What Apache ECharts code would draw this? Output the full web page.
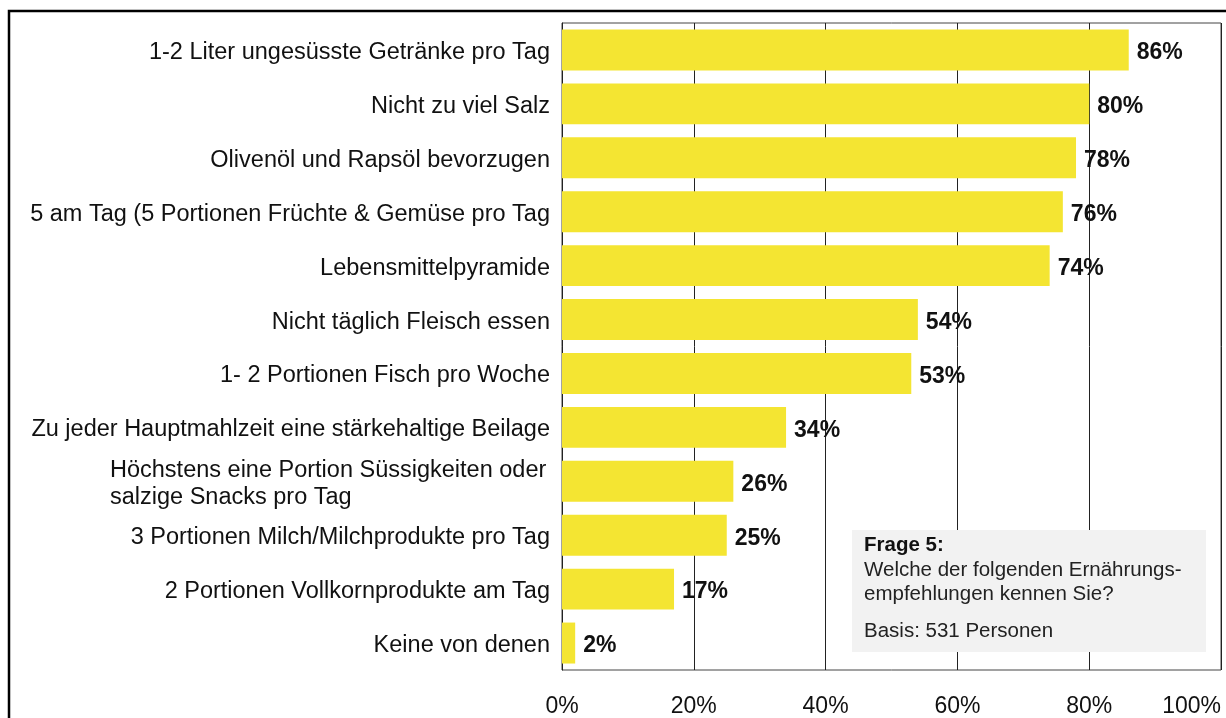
<!DOCTYPE html>
<html>
<head>
<meta charset="utf-8">
<script src="https://cdn.jsdelivr.net/npm/echarts@6/dist/echarts.min.js"></script>
<style>
  html, body { margin: 0; padding: 0; background: #fff; }
  #chart { width: 1226px; height: 718px; }
</style>
</head>
<body>
<div id="chart"></div>
<script>
// Kategorien von oben nach unten
const categories = [
  '1-2 Liter ungesüsste Getränke pro Tag',
  'Nicht zu viel Salz',
  'Olivenöl und Rapsöl bevorzugen',
  '5 am Tag (5 Portionen Früchte & Gemüse pro Tag',
  'Lebensmittelpyramide',
  'Nicht täglich Fleisch essen',
  '1- 2 Portionen Fisch pro Woche',
  'Zu jeder Hauptmahlzeit eine stärkehaltige Beilage',
  'Höchstens eine Portion Süssigkeiten oder\nsalzige Snacks pro Tag',
  '3 Portionen Milch/Milchprodukte pro Tag',
  '2 Portionen Vollkornprodukte am Tag',
  'Keine von denen'
]
const values = [86, 80, 78, 76, 74, 54, 53, 34, 26, 25, 17, 2]
const xTicks = [0, 20, 40, 60, 80, 100]

const chart = echarts.init(document.getElementById('chart'))
const font = 'Arial, "Liberation Sans", Helvetica, sans-serif'

chart.setOption({
  animation: false,
  textStyle: { fontFamily: font },
  grid: { left: 562, top: 23, right: 5, bottom: 47, show: true, borderColor: '#444', borderWidth: 1 },
  xAxis: {
    type: 'value', min: xTicks[0], max: xTicks[xTicks.length - 1], interval: 20,
    axisLine: { show: false }, axisTick: { show: false },
    splitLine: { show: true, lineStyle: { color: '#222', width: 1 } },
    axisLabel: { fontSize: 23, color: '#111', margin: 25, formatter: '{value}%', alignMaxLabel: 'right' }
  },
  yAxis: {
    type: 'category', inverse: true, data: categories,
    axisLine: { show: true, lineStyle: { color: '#222' } }, axisTick: { show: false },
    axisLabel: {
      fontSize: 23.5, color: '#111', margin: 12, lineHeight: 27, padding: [5, 0, 0, 0],
      // mehrzeiliges Label linksbündig im Block
      formatter: v => v.includes('\n') ? v.split('\n').map(s => '{w|' + s + '}').join('\n') : v,
      rich: { w: { width: 440, align: 'left', fontSize: 23.5, lineHeight: 27, color: '#111' } }
    }
  },
  series: [{
    type: 'bar', data: values, barCategoryGap: '24%',
    itemStyle: { color: '#f4e532' },
    label: { show: true, position: 'right', distance: 8, offset: [0, 3], formatter: '{c}%', fontSize: 23, fontWeight: 'bold', color: '#111' }
  }],
  graphic: [
    // Rahmen oben/links
    { type: 'polyline', shape: { points: [[9, 730], [9, 11], [1240, 11]] }, style: { stroke: '#000', lineWidth: 2.5, fill: null } },
    // Infobox
    { type: 'rect', shape: { x: 852, y: 530, width: 354, height: 122 }, style: { fill: '#f2f2f2' }, z: 10 },
    { type: 'text', x: 864, y: 535, style: { text: 'Frage 5:', font: 'bold 20.5px ' + font, fill: '#111' }, z: 11 },
    { type: 'text', x: 864, y: 558, style: { text: 'Welche der folgenden Ernährungs-\nempfehlungen kennen Sie?', font: '20.5px ' + font, lineHeight: 24, fill: '#222' }, z: 11 },
    { type: 'text', x: 864, y: 621, style: { text: 'Basis: 531 Personen', font: '20.5px ' + font, fill: '#222' }, z: 11 }
  ]
})
</script>
</body>
</html>
